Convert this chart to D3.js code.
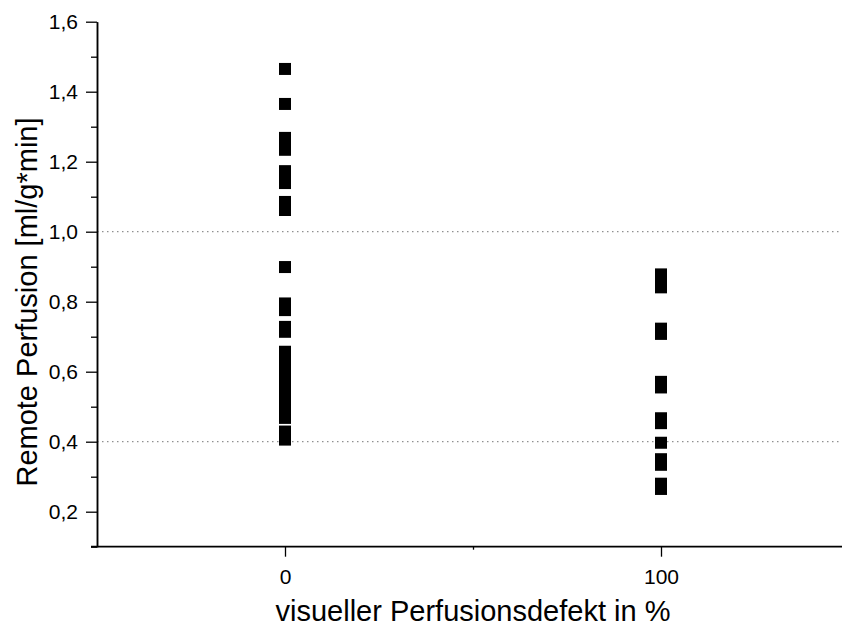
<!DOCTYPE html>
<html>
<head>
<meta charset="utf-8">
<script src="https://cdn.jsdelivr.net/npm/d3@7"></script>
<style>
  body { margin: 0; background: #fff; }
  svg text { font-family: "Liberation Sans", Arial, sans-serif; fill: #000; }
</style>
</head>
<body>
<div id="chart"></div>
<script>
// values
var groups = [0, 100];
var perfusion0 = [1.465, 1.365, 1.268, 1.255, 1.234, 1.173, 1.155, 1.139, 1.085, 1.062,
    0.899, 0.795, 0.776, 0.728, 0.714, 0.657, 0.645, 0.63, 0.612, 0.6, 0.585, 0.57, 0.558,
    0.545, 0.537, 0.522, 0.51, 0.498, 0.485, 0.468, 0.429, 0.406];
var perfusion100 = [0.878, 0.86, 0.841, 0.723, 0.708, 0.571, 0.555, 0.467, 0.453,
    0.397, 0.35, 0.334, 0.28, 0.265];
var yTicks = [0.2, 0.4, 0.6, 0.8, 1.0, 1.2, 1.4, 1.6];
var yMinorTicks = [0.1, 0.3, 0.5, 0.7, 0.9, 1.1, 1.3, 1.5];
var xTicks = [0, 100];
var xMinorTicks = [50];
var refLines = [1.0, 0.4];

var width = 842, height = 630;
var svg = d3.select("#chart").append("svg")
    .attr("width", width)
    .attr("height", height);

var x = d3.scaleLinear().domain([-50, 150]).range([97, 849]);
var y = d3.scaleLinear().domain([0.1, 1.6]).range([546.7, 21.7]);

var fmt = function (d) { return d3.format(".1f")(d).replace(".", ","); };

// dotted reference lines
svg.selectAll("line.ref")
    .data(refLines)
    .enter().append("line")
    .attr("class", "ref")
    .attr("x1", x(-50)).attr("x2", width)
    .attr("y1", y).attr("y2", y)
    .attr("stroke", "#777")
    .attr("stroke-width", 1)
    .attr("stroke-dasharray", "1.5,3.5");

// y axis: minor + major ticks
var yAxis = svg.append("g").attr("transform", "translate(" + x(-50) + ",0)");
yAxis.append("g").call(d3.axisLeft(y).tickValues(yMinorTicks).tickSize(6).tickSizeOuter(0).tickFormat(""));
yAxis.append("g").call(d3.axisLeft(y).tickValues(yTicks).tickSize(11).tickSizeOuter(0).tickPadding(8).tickFormat(fmt));
yAxis.selectAll(".domain").attr("stroke-width", 1.5);
yAxis.selectAll("line").attr("stroke", "#000").attr("stroke-width", 1.3);
yAxis.selectAll("text")
    .attr("font-size", 21)
    .attr("font-family", "Liberation Sans, Arial, sans-serif")
    .attr("fill", "#000");

// x axis
var xAxis = svg.append("g").attr("transform", "translate(0," + y(0.1) + ")");
xAxis.append("g").call(d3.axisBottom(x).tickValues(xMinorTicks).tickSize(3).tickSizeOuter(0).tickFormat(""));
xAxis.append("g").call(d3.axisBottom(x).tickValues(xTicks).tickSize(10).tickSizeOuter(0).tickPadding(12).tickFormat(d3.format("d")));
xAxis.selectAll(".domain").remove();
xAxis.append("line")
    .attr("x1", x(-50) - 6).attr("x2", width)
    .attr("stroke", "#000")
    .attr("stroke-width", 1.8);
xAxis.selectAll("line").attr("stroke", "#000").attr("stroke-width", 1.3);
xAxis.select("line:last-child").attr("stroke-width", 1.8);
xAxis.selectAll("text")
    .attr("font-size", 21)
    .attr("font-family", "Liberation Sans, Arial, sans-serif")
    .attr("fill", "#000");

// points
var points = [];
perfusion0.forEach(function (v) { points.push({ g: groups[0], v: v }); });
perfusion100.forEach(function (v) { points.push({ g: groups[1], v: v }); });

var s = 12;
svg.selectAll("rect.pt")
    .data(points)
    .enter().append("rect")
    .attr("class", "pt")
    .attr("x", function (d) { return x(d.g) - s / 2; })
    .attr("y", function (d) { return y(d.v) - s / 2; })
    .attr("width", s)
    .attr("height", s)
    .attr("fill", "#000");

// axis titles
svg.append("text")
    .attr("x", 473)
    .attr("y", 621)
    .attr("text-anchor", "middle")
    .attr("font-size", 29)
    .text("visueller Perfusionsdefekt in %");

svg.append("text")
    .attr("transform", "translate(36.5,302) rotate(-90)")
    .attr("text-anchor", "middle")
    .attr("font-size", 29)
    .text("Remote Perfusion [ml/g*min]");
</script>
</body>
</html>
